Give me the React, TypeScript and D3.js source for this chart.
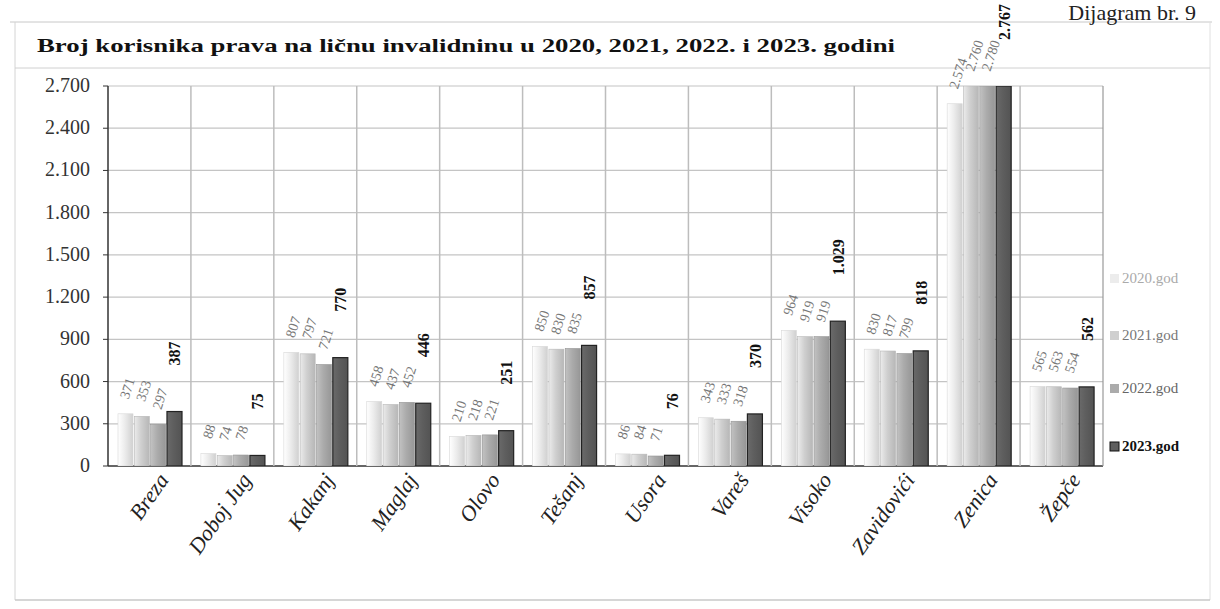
import React from "react";
import * as d3 from "d3";

const categories = ["Breza", "Doboj Jug", "Kakanj", "Maglaj", "Olovo", "Tešanj", "Usora", "Vareš", "Visoko", "Zavidovići", "Zenica", "Žepče"];
const seriesNames = ["2020.god", "2021.god", "2022.god", "2023.god"];
const v2020 = [371, 88, 807, 458, 210, 850, 86, 343, 964, 830, 2574, 565];
const v2021 = [353, 74, 797, 437, 218, 830, 84, 333, 919, 817, 2760, 563];
const v2022 = [297, 78, 721, 452, 221, 835, 71, 318, 919, 799, 2780, 554];
const v2023 = [387, 75, 770, 446, 251, 857, 76, 370, 1029, 818, 2767, 562];
const yTicks = [0, 300, 600, 900, 1200, 1500, 1800, 2100, 2400, 2700];
const titleText = "Broj korisnika  prava na ličnu invalidninu  u 2020, 2021, 2022. i 2023. godini";
const diagramLabel = "Dijagram br. 9";

const seriesValues = [v2020, v2021, v2022, v2023];
const fills = ["#ececec", "#cfcfcf", "#ababab", "#5e5e5e"];
const edges = ["#d8d8d8", "#b8b8b8", "#949494", "#222"];

const fmt = d3.formatLocale({ decimal: ",", thousands: ".", grouping: [3], currency: ["", ""] }).format(",d");

export default function App() {
  const W = 1220, H = 609;
  const left = 108, right = 1103, top = 86, bottom = 466;
  const yMax = 2700;
  const x = d3.scaleBand<string>().domain(categories).range([left, right]);
  const inner = d3.scaleBand<string>().domain(seriesNames).range([10, 74]).paddingInner(0.08);
  const y = d3.scaleLinear().domain([0, yMax]).range([bottom, top]);
  const serif = "'Liberation Serif', 'Times New Roman', serif";

  return (
    <svg width={W} height={H} style={{ position: "absolute", left: 0, top: 0, background: "#fff" }} fontFamily={serif}>
      <defs>
        {fills.map((c, i) => (
          <linearGradient key={i} id={`g${i}`} x1="0" x2="1" y1="0" y2="0">
            <stop offset="0" stopColor={d3.color(c)!.brighter(0.35).formatHex()} />
            <stop offset="0.45" stopColor={c} />
            <stop offset="1" stopColor={d3.color(c)!.darker(0.35).formatHex()} />
          </linearGradient>
        ))}
        <clipPath id="plotclip"><rect x={left} y={top} width={right - left} height={bottom - top} /></clipPath>
      </defs>
      <rect x={0} y={0} width={W} height={H} fill="#fff" />
      {/* outer frame */}
      <line x1={10} x2={1212} y1={22} y2={22} stroke="#c8c8c8" strokeWidth={1} />
      <line x1={15} x2={15} y1={22} y2={600} stroke="#d4d4d4" strokeWidth={1} />
      <line x1={1210} x2={1210} y1={22} y2={600} stroke="#e0e0e0" strokeWidth={1} />
      <line x1={15} x2={1210} y1={600} y2={600} stroke="#c8c8c8" strokeWidth={1.5} />
      <line x1={15} x2={1210} y1={68} y2={68} stroke="#d0d0d0" strokeWidth={1} />
      <text x={1196} y={20} textAnchor="end" fontSize={22} fill="#222">{diagramLabel}</text>
      <text x={37} y={52} fontSize={19} fontWeight="bold" fill="#111" textLength={858} lengthAdjust="spacingAndGlyphs">{titleText}</text>

      {/* horizontal gridlines */}
      {yTicks.map((t) => (
        <g key={t}>
          <line x1={left} x2={right} y1={y(t)} y2={y(t)} stroke={t === 0 ? "#333" : "#c4c4c4"} strokeWidth={t === 0 ? 1.5 : 1.2} />
          <line x1={left - 5} x2={left} y1={y(t)} y2={y(t)} stroke="#333" />
          <text x={90} y={y(t) + 6} textAnchor="end" fontSize={20} fill="#333">{fmt(t)}</text>
        </g>
      ))}
      {/* vertical gridlines */}
      {categories.map((c, i) => i > 0 ? (
        <line key={c} x1={x(c)!} x2={x(c)!} y1={top} y2={bottom} stroke="#bdbdbd" strokeWidth={1.5} />
      ) : null)}
      <line x1={right} x2={right} y1={top} y2={bottom} stroke="#999" strokeWidth={1.2} />
      <line x1={left} x2={left} y1={top} y2={bottom} stroke="#333" strokeWidth={1.5} />

      {/* bars */}
      <g clipPath="url(#plotclip)">
        {seriesValues.map((vals, s) => vals.map((v, i) => {
          const bx = x(categories[i])! + inner(seriesNames[s])!;
          const by = y(Math.min(v, yMax));
          return (
            <rect key={`${s}-${i}`} x={bx} y={by} width={inner.bandwidth()} height={bottom - by}
              fill={`url(#g${s})`} stroke={edges[s]} strokeWidth={s === 3 ? 1.2 : 0.6} />
          );
        }))}
      </g>

      {/* data labels */}
      {seriesValues.map((vals, s) => vals.map((v, i) => {
        const cx = x(categories[i])! + inner(seriesNames[s])! + inner.bandwidth() / 2;
        const by = y(Math.min(v, yMax));
        if (s === 3) {
          return (
            <text key={`l${s}-${i}`} transform={`translate(${cx + 6},${by - 46}) rotate(-90)`} fontSize={16}
              fontWeight="bold" fill="#111">{fmt(v)}</text>
          );
        }
        return (
          <text key={`l${s}-${i}`} transform={`translate(${cx + 3},${by - 14}) rotate(-72)`} fontSize={14}
            fill="#777">{fmt(v)}</text>
        );
      }))}

      {/* category labels */}
      {categories.map((c) => (
        <text key={c} transform={`translate(${x(c)! + x.bandwidth() / 2 + 20},${bottom + 14}) rotate(-55)`}
          textAnchor="end" fontSize={22} fontStyle="italic" fill="#222">{c}</text>
      ))}

      {/* legend */}
      {seriesNames.map((n, i) => {
        const ly = [283, 340, 393, 451][i];
        return (
          <g key={n}>
            <rect x={1110} y={ly - 9} width={9} height={9} fill={fills[i]} stroke={i === 3 ? "#111" : "none"} />
            <text x={1122} y={ly} fontSize={15} fill={i === 3 ? "#111" : ["#aaa", "#777", "#666"][i]}
              fontWeight={i === 3 ? "bold" : "normal"}>{n}</text>
          </g>
        );
      })}
    </svg>
  );
}
